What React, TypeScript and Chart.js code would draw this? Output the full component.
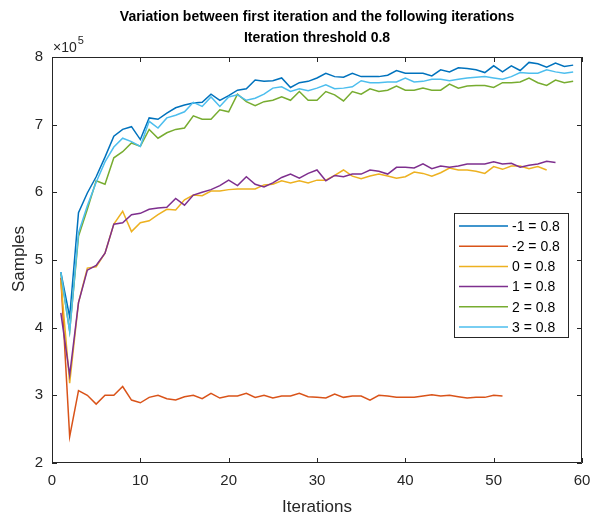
import React, { useEffect, useRef } from "react";
import { Chart, registerables } from "chart.js";

Chart.register(...registerables);

// values in units of 10^5 samples
const seriesNames = ["-1 = 0.8", "-2 = 0.8", "0 = 0.8", "1 = 0.8", "2 = 0.8", "3 = 0.8"];
const seriesColors = ["#0072BD", "#D95319", "#EDB120", "#7E2F8E", "#77AC30", "#4DBEEE"];

const valuesM1 = [4.82, 4.16, 5.7, 5.99, 6.23, 6.52, 6.83, 6.93, 6.97, 6.78, 7.1, 7.08, 7.17, 7.25, 7.29, 7.32, 7.33, 7.45, 7.36, 7.43, 7.51, 7.53, 7.66, 7.64, 7.65, 7.69, 7.55, 7.62, 7.64, 7.69, 7.76, 7.71, 7.7, 7.76, 7.71, 7.71, 7.71, 7.73, 7.8, 7.76, 7.76, 7.76, 7.72, 7.81, 7.78, 7.84, 7.83, 7.81, 7.77, 7.87, 7.78, 7.87, 7.8, 7.92, 7.9, 7.85, 7.91, 7.86, 7.88];
const valuesM2 = [4.74, 2.39, 3.07, 3.0, 2.87, 3.0, 3.0, 3.13, 2.93, 2.89, 2.97, 3.0, 2.95, 2.93, 2.98, 3.0, 2.95, 3.03, 2.96, 2.99, 2.99, 3.03, 2.97, 3.0, 2.96, 2.99, 2.99, 3.03, 2.98, 2.97, 2.96, 3.02, 2.97, 2.99, 2.99, 2.93, 3.0, 2.99, 2.97, 2.97, 2.97, 2.99, 3.01, 2.99, 3.0, 2.98, 2.96, 2.97, 2.97, 3.0, 2.99];
const values0 = [4.7, 3.18, 4.37, 4.88, 4.9, 5.1, 5.53, 5.72, 5.42, 5.55, 5.58, 5.67, 5.75, 5.74, 5.89, 5.96, 5.95, 6.02, 6.02, 6.04, 6.05, 6.05, 6.05, 6.11, 6.12, 6.17, 6.14, 6.17, 6.14, 6.18, 6.18, 6.25, 6.33, 6.24, 6.2, 6.24, 6.27, 6.24, 6.21, 6.23, 6.3, 6.28, 6.24, 6.29, 6.36, 6.33, 6.33, 6.31, 6.28, 6.38, 6.34, 6.39, 6.39, 6.35, 6.38, 6.33];
const values1 = [4.22, 3.3, 4.37, 4.85, 4.92, 5.1, 5.53, 5.55, 5.67, 5.69, 5.75, 5.77, 5.78, 5.91, 5.81, 5.96, 6.0, 6.04, 6.1, 6.18, 6.1, 6.23, 6.12, 6.08, 6.14, 6.22, 6.27, 6.21, 6.28, 6.33, 6.17, 6.25, 6.23, 6.27, 6.27, 6.33, 6.31, 6.27, 6.37, 6.37, 6.36, 6.42, 6.35, 6.39, 6.37, 6.39, 6.42, 6.42, 6.42, 6.45, 6.42, 6.43, 6.37, 6.4, 6.42, 6.46, 6.44];
const values2 = [4.8, 3.95, 5.35, 5.75, 6.17, 6.12, 6.51, 6.6, 6.73, 6.68, 6.93, 6.8, 6.88, 6.93, 6.95, 7.13, 7.08, 7.08, 7.22, 7.19, 7.45, 7.34, 7.28, 7.34, 7.36, 7.41, 7.36, 7.49, 7.36, 7.36, 7.49, 7.44, 7.35, 7.49, 7.45, 7.53, 7.49, 7.51, 7.57, 7.51, 7.51, 7.54, 7.51, 7.51, 7.6, 7.54, 7.57, 7.58, 7.58, 7.55, 7.62, 7.62, 7.63, 7.69, 7.62, 7.58, 7.66, 7.62, 7.64];
const values3 = [4.82, 3.94, 5.4, 5.8, 6.15, 6.45, 6.67, 6.8, 6.75, 6.68, 7.05, 6.95, 7.1, 7.14, 7.19, 7.33, 7.27, 7.41, 7.27, 7.41, 7.44, 7.36, 7.39, 7.45, 7.54, 7.56, 7.49, 7.53, 7.5, 7.54, 7.59, 7.53, 7.54, 7.56, 7.65, 7.62, 7.62, 7.63, 7.63, 7.69, 7.63, 7.64, 7.67, 7.67, 7.65, 7.67, 7.69, 7.7, 7.71, 7.69, 7.67, 7.71, 7.77, 7.76, 7.76, 7.81, 7.78, 7.76, 7.78];

const allSeries = [valuesM1, valuesM2, values0, values1, values2, values3];

const xTicks = [0, 10, 20, 30, 40, 50, 60];
const yTicks = [2, 3, 4, 5, 6, 7, 8];

const titleLines = ["Variation between first iteration and the following iterations", "Iteration threshold 0.8"];
const xLabel = "Iterations";
const yLabel = "Samples";

const FONT = '"Liberation Sans", Arial, Helvetica, sans-serif';
const AXIS_COLOR = "#262626";

const matlabPlugin = {
  id: "matlabDecor",
  afterDraw(chart: any) {
    const { ctx, chartArea, scales } = chart;
    const { left, right, top, bottom } = chartArea;
    const xs = scales.x;
    const ys = scales.y;
    ctx.save();
    ctx.strokeStyle = AXIS_COLOR;
    ctx.lineWidth = 1;
    ctx.beginPath();
    ctx.rect(Math.round(left) + 0.5, Math.round(top) + 0.5, Math.round(right - left) - 1, Math.round(bottom - top) - 1);
    ctx.stroke();
    const tl = 5;
    ctx.beginPath();
    xs.ticks.forEach((t: any) => {
      const px = Math.round(xs.getPixelForValue(t.value)) + 0.5;
      ctx.moveTo(px, bottom);
      ctx.lineTo(px, bottom - tl);
      ctx.moveTo(px, top);
      ctx.lineTo(px, top + tl);
    });
    ys.ticks.forEach((t: any) => {
      const py = Math.round(ys.getPixelForValue(t.value)) + 0.5;
      ctx.moveTo(left, py);
      ctx.lineTo(left + tl, py);
      ctx.moveTo(right, py);
      ctx.lineTo(right - tl, py);
    });
    ctx.stroke();

    // title
    const cx = (left + right) / 2;
    ctx.fillStyle = "#000";
    ctx.textAlign = "center";
    ctx.textBaseline = "middle";
    ctx.font = `bold 14px ${FONT}`;
    ctx.fillText(titleLines[0], cx, 17);
    ctx.fillText(titleLines[1], cx, 38);

    // axis labels
    ctx.fillStyle = AXIS_COLOR;
    ctx.font = `17px ${FONT}`;
    ctx.fillText(xLabel, cx, 507);
    ctx.save();
    ctx.translate(19, (top + bottom) / 2 - 1);
    ctx.rotate(-Math.PI / 2);
    ctx.fillText(yLabel, 0, 0);
    ctx.restore();

    // exponent
    ctx.textAlign = "left";
    ctx.textBaseline = "alphabetic";
    ctx.font = `14px ${FONT}`;
    ctx.fillText("\u00d710", left + 1, top - 5);
    const w = ctx.measureText("\u00d710").width;
    ctx.font = `11px ${FONT}`;
    ctx.fillText("5", left + 1 + w + 1, top - 13);

    // legend
    const lx0 = right - 128;
    const ly0 = top + 156;
    const lw = 114;
    const lh = 124;
    ctx.fillStyle = "#fff";
    ctx.fillRect(lx0, ly0, lw, lh);
    ctx.strokeStyle = AXIS_COLOR;
    ctx.lineWidth = 1;
    ctx.strokeRect(lx0 + 0.5, ly0 + 0.5, lw, lh);
    ctx.font = `14px ${FONT}`;
    ctx.textBaseline = "middle";
    seriesNames.forEach((name, i) => {
      const yy = ly0 + 13 + i * 20.2;
      ctx.strokeStyle = seriesColors[i];
      ctx.lineWidth = 1.5;
      ctx.beginPath();
      ctx.moveTo(lx0 + 5, yy);
      ctx.lineTo(lx0 + 54, yy);
      ctx.stroke();
      ctx.fillStyle = "#000";
      ctx.fillText(name, lx0 + 58, yy + 1);
    });
    ctx.restore();
  },
};

export default function App() {
  const ref = useRef<HTMLCanvasElement | null>(null);
  useEffect(() => {
    if (!ref.current) return;
    const datasets = allSeries.map((vals, i) => ({
      label: seriesNames[i],
      data: vals.map((v, k) => ({ x: k + 1, y: v })),
      borderColor: seriesColors[i],
      backgroundColor: seriesColors[i],
      borderWidth: 1.5,
      pointRadius: 0,
      tension: 0,
      fill: false,
      order: allSeries.length - i,
    }));
    const chart = new Chart(ref.current, {
      type: "line",
      data: { datasets },
      options: {
        animation: false,
        responsive: false,
        maintainAspectRatio: false,
        layout: { padding: { top: 57, right: 15, left: 0, bottom: 0 } },
        plugins: { legend: { display: false }, title: { display: false }, tooltip: { enabled: false } },
        scales: {
          x: {
            type: "linear",
            min: 0,
            max: 60,
            afterBuildTicks: (s: any) => { s.ticks = xTicks.map((v) => ({ value: v })); },
            afterFit: (s: any) => { s.height = 57; s.paddingLeft = 0; s.paddingRight = 0; },
            grid: { display: false, drawTicks: false, tickLength: 0 },
            border: { display: false },
            ticks: { color: AXIS_COLOR, font: { family: FONT, size: 15 }, padding: 9, maxRotation: 0, autoSkip: false },
          },
          y: {
            type: "linear",
            min: 2,
            max: 8,
            afterBuildTicks: (s: any) => { s.ticks = yTicks.map((v) => ({ value: v })); },
            afterFit: (s: any) => { s.width = 52; s.paddingTop = 0; s.paddingBottom = 0; },
            grid: { display: false, drawTicks: false, tickLength: 0 },
            border: { display: false },
            ticks: { color: AXIS_COLOR, font: { family: FONT, size: 15 }, padding: 9, autoSkip: false },
          },
        },
      },
      plugins: [matlabPlugin],
    });
    return () => chart.destroy();
  }, []);
  return (
    <div style={{ position: "fixed", left: 0, top: 0, width: 597, height: 520, background: "#fff" }}>
      <canvas ref={ref} width={597} height={520} style={{ width: 597, height: 520 }} />
    </div>
  );
}
